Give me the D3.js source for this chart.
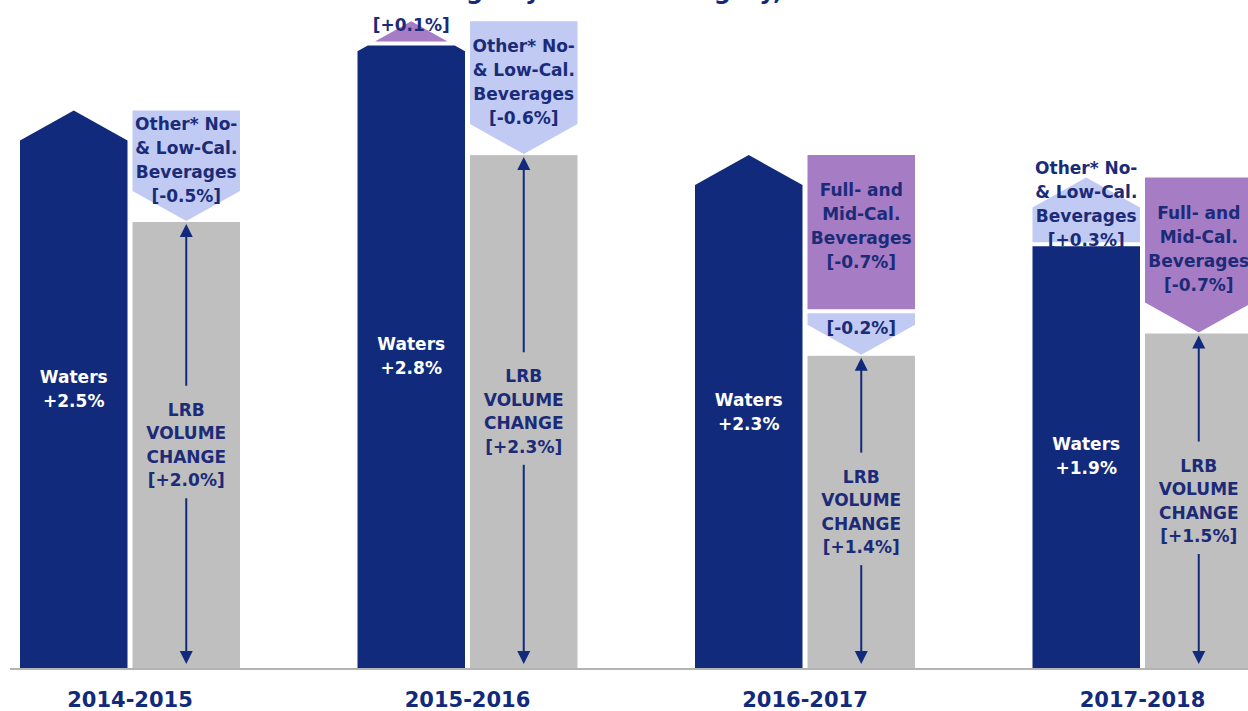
<!DOCTYPE html>
<html>
<head>
<meta charset="utf-8">
<script src="https://cdn.jsdelivr.net/npm/d3@7"></script>
<style>
  body { margin: 0; background: #fff; }
  svg { display: block; font-family: "DejaVu Sans", sans-serif; font-weight: bold; }
</style>
</head>
<body>
<svg id="chart" width="1248" height="711"></svg>
<script>
// data (percentage points)
var periods = ["2014-2015", "2015-2016", "2016-2017", "2017-2018"];
var waters = [2.5, 2.8, 2.3, 1.9];
var fullMid = [0, 0.1, -0.7, -0.7];
var otherLow = [-0.5, -0.6, -0.2, 0.3];
var lrb = [2.0, 2.3, 1.4, 1.5];

var catNames = {
    full: ["Full- and", "Mid-Cal.", "Beverages"],
    other: ["Other* No-", "& Low-Cal.", "Beverages"]
};
var lrbWords = ["LRB", "VOLUME", "CHANGE"];
var titleText = "Contribution to LRB Volume Change by Calorie Category, Full Years";

var colors = { waters: "#112a7c", full: "#a67cc4", other: "#c0caf3", lrb: "#bfbfbf" };
var ink = "#1b2b78";

var svg = d3.select("#chart");
var base = 668;
var y = d3.scaleLinear().domain([0, 3]).range([base, -1]);
var x = d3.scaleBand().domain(periods).range([-38.75, 1311.25]);
var sub = d3.scaleBand().domain(["up", "down"]).range([-110, 110]).paddingInner(5 / 112.5);
var head = 30, gap = 4;

function fmt(v) { return (v > 0 ? "+" : "-") + Math.abs(v).toFixed(1) + "%"; }

// piece of an arrow between yA (tip side) and yB
function arrowPiece(cx, hw, yTip, yA, yB) {
    var yS = yTip + (yB > yTip ? head : -head);
    function w(yy) { var t = Math.abs(yy - yTip); return t < head ? hw * t / head : hw; }
    var pts = [[cx - w(yA), yA]];
    if ((yS - yA) * (yS - yB) < 0) pts.push([cx - hw, yS]);
    pts.push([cx - w(yB), yB]);
    var right = pts.map(function (p) { return [2 * cx - p[0], p[1]]; }).reverse();
    return pts.concat(right);
}

function lines(g, arr, cx, cy, lh, fill, size) {
    var t = g.append("text")
        .attr("x", cx).attr("y", cy - (arr.length - 1) * lh / 2)
        .attr("text-anchor", "middle")
        .attr("dominant-baseline", "central")
        .style("fill", fill).style("font-size", size + "px");
    arr.forEach(function (s, k) {
        t.append("tspan").attr("x", cx).attr("dy", k == 0 ? 0 : lh).text(s);
    });
}

// title sits mostly above the top edge, like the reference
svg.append("text")
    .attr("x", 14).attr("y", -1)
    .style("fill", colors.waters).style("font-size", "24px")
    .text(titleText);

periods.forEach(function (p, i) {
    var c = x(p) + x.bandwidth() / 2;
    var hw = sub.bandwidth() / 2;
    var upX = c + sub("up") + hw, dnX = c + sub("down") + hw;
    var g = svg.append("g");

    // up column: waters then positive contributions
    var ups = [{ key: "waters", v: waters[i] }];
    var downs = [];
    [["full", fullMid[i]], ["other", otherLow[i]]].forEach(function (d) {
        if (d[1] > 0) ups.push({ key: d[0], v: d[1] });
        else if (d[1] < 0) downs.push({ key: d[0], v: d[1] });
    });
    var acc = 0;
    ups.forEach(function (d) { d.from = acc; acc += d.v; d.to = acc; });
    var top = acc;
    downs.forEach(function (d) { d.from = acc; acc += d.v; d.to = acc; });

    var upTip = y(top);
    ups.forEach(function (d, k) {
        var yA = k == ups.length - 1 ? upTip : y(d.to) + gap / 2;
        var yB = k == 0 ? y(0) : y(d.from) - gap / 2;
        d.yA = yA; d.yB = yB;
        g.append("polygon")
            .attr("points", arrowPiece(upX, hw, upTip, yA, yB).join(" "))
            .attr("fill", colors[d.key]);
    });

    var dnTip = y(lrb[i]) - 1;
    downs.forEach(function (d, k) {
        var yA = k == downs.length - 1 ? dnTip : y(d.to) - gap / 2;
        var yB = k == 0 ? y(d.from) : y(d.from) + gap / 2;
        d.yA = yA; d.yB = yB;
        g.append("polygon")
            .attr("points", arrowPiece(dnX, hw, dnTip, yA, yB).join(" "))
            .attr("fill", colors[d.key]);
    });

    // LRB bar
    var gTop = y(lrb[i]);
    g.append("rect")
        .attr("x", c + sub("down")).attr("y", gTop)
        .attr("width", sub.bandwidth()).attr("height", base - gTop)
        .attr("fill", colors.lrb);

    // double arrow inside the LRB bar
    var t1 = gTop + 2, t2 = base - 4, ah = 13, aw = 6.5;
    g.append("line")
        .attr("x1", dnX).attr("x2", dnX).attr("y1", t1 + ah - 1).attr("y2", t2 - ah + 1)
        .attr("stroke", colors.waters).attr("stroke-width", 2);
    g.append("polygon")
        .attr("points", [[dnX, t1], [dnX - aw, t1 + ah], [dnX + aw, t1 + ah]].join(" "))
        .attr("fill", colors.waters);
    g.append("polygon")
        .attr("points", [[dnX, t2], [dnX - aw, t2 - ah], [dnX + aw, t2 - ah]].join(" "))
        .attr("fill", colors.waters);

    var lrbMid = (gTop + base) / 2;
    var lrbLines = lrbWords.concat(["[" + fmt(lrb[i]) + "]"]);
    var lh = 23.5;
    g.append("rect")
        .attr("x", dnX - 12).attr("width", 24)
        .attr("y", lrbMid - 1.5 * lh - 24).attr("height", 3 * lh + 42)
        .attr("fill", colors.lrb);
    lines(g, lrbLines, dnX, lrbMid, lh, ink, 17);

    // labels on the contribution pieces
    ups.concat(downs).forEach(function (d) {
        if (d.key == "waters") {
            lines(g, ["Waters", fmt(d.v)], upX, (y(0) + y(d.v)) / 2, 24, "#fff", 17);
            return;
        }
        var cx = d.v > 0 ? upX : dnX;
        var cy = (d.yA + d.yB) / 2 - 6;
        var arr = Math.abs(d.v) < 0.25 ? ["[" + fmt(d.v) + "]"]
            : catNames[d.key].concat(["[" + fmt(d.v) + "]"]);
        lines(g, arr, cx, cy, 24, ink, 17);
    });

    // period label
    svg.append("text")
        .attr("x", c).attr("y", 707)
        .attr("text-anchor", "middle")
        .style("fill", colors.waters).style("font-size", "21px")
        .text(p);
});

// baseline
svg.append("line")
    .attr("x1", 10).attr("x2", 1248).attr("y1", base + 1).attr("y2", base + 1)
    .attr("stroke", "#b3b3b3").attr("stroke-width", 2);
</script>
</body>
</html>
